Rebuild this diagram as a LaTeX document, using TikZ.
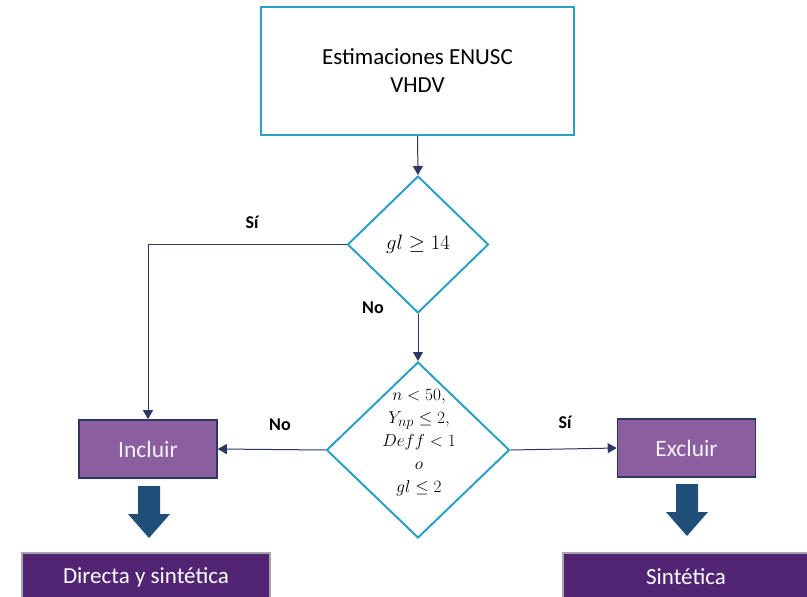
\documentclass[tikz,border=0pt]{standalone}
\usepackage{fontspec}
\setmainfont{Carlito}
\usetikzlibrary{shapes.geometric,arrows.meta}
\definecolor{teal1}{RGB}{43,160,196}
\definecolor{navy1}{RGB}{45,55,100}
\definecolor{purp1}{RGB}{139,94,160}
\definecolor{purp2}{RGB}{81,36,116}
\definecolor{blk1}{RGB}{31,78,121}
\tikzset{
  conn/.style={draw=navy1, line width=1pt, -{Triangle[width=10pt,length=9pt]}},
  topbox/.style={draw=teal1, line width=2pt, fill=white, minimum width=313pt, minimum height=128pt, align=center, font=\fontsize{23}{28}\selectfont},
  decision/.style={diamond, draw=teal1, line width=2pt, inner sep=0pt, align=center},
  actbox/.style={draw=navy1, line width=1.6pt, fill=purp1, text=white!92!purp1, minimum width=138pt, minimum height=58pt, font=\fontsize{23.5}{26}\selectfont},
  resbox/.style={draw=gray!70, line width=1.2pt, fill=purp2, text=white, minimum height=48pt, font=\fontsize{23}{26}\selectfont},
  lbl/.style={font=\bfseries\fontsize{18}{20}\selectfont, text=black},
  blockarrow/.style={fill=blk1, draw=none}
}
\begin{document}
\begin{tikzpicture}[x=1pt,y=-1pt]
\useasboundingbox (0,0) rectangle (807,597);
\node[topbox] (top) at (417.5,71) {Estimaciones ENUSC\\VHDV};
\node[decision, minimum width=141pt, minimum height=137pt, font=\fontsize{20}{22}\selectfont] (d1) at (418,244.5) {$gl \geq 14$};
\node[decision, minimum width=183pt, minimum height=176pt] (d2) at (418,450) {};
\node[align=center, inner sep=0pt, font=\fontsize{19}{23}\selectfont] (d2t) at (419,443) {$n<50,$\\$Y_{np}\leq 2,$\\$Deff<1$\\$o$\\$gl\leq 2$};
\node[actbox] (incl) at (148,449) {Incluir};
\node[actbox] (excl) at (686.5,448) {Excluir};
\node[resbox, minimum width=248pt] (dir) at (146,577) {Directa y sintética};
\node[resbox, minimum width=246pt] (sint) at (686,577) {Sintética};
\draw[conn] (top.south) -- (d1.north);
\draw[conn] (d1.west) -| (incl.north);
\draw[conn] (d1.south) -- (d2.north);
\draw[conn] (d2.west) -- (incl.east);
\draw[conn] (d2.east) -- (excl.west);
\node[lbl] (si1) at (252,222) {Sí};
\node[lbl] (no1) at (373,308) {No};
\node[lbl] (no2) at (280,425) {No};
\node[lbl] (si2) at (565,422) {Sí};
\fill[blockarrow] (138,486) -- (160,486) -- (160,514) -- (170,514) -- (149,538) -- (128,514) -- (138,514) -- cycle;
\fill[blockarrow] (676,484) -- (698,484) -- (698,512) -- (708,512) -- (687,536) -- (666,512) -- (676,512) -- cycle;
\end{tikzpicture}
\end{document}
